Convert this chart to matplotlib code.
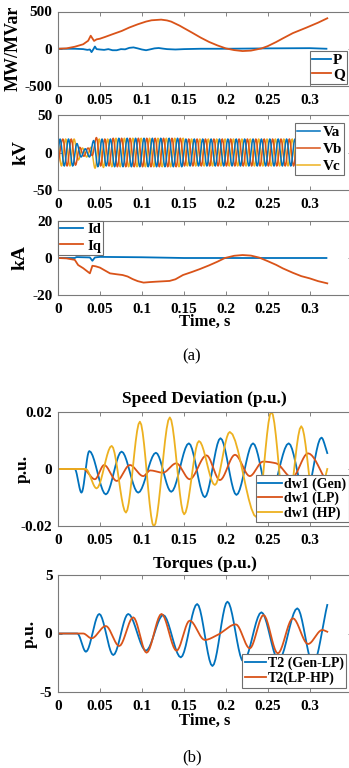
import numpy as np
import matplotlib
matplotlib.use('Agg')
import matplotlib.pyplot as plt

plt.rcParams['font.family'] = ['Liberation Serif', 'DejaVu Serif']
plt.rcParams['font.weight'] = 'bold'
plt.rcParams['axes.unicode_minus'] = False

# ---------------- data ----------------
x_ticks = [0, 0.05, 0.1, 0.15, 0.2, 0.25, 0.3]
x_tick_labels = ['0', '0.05', '0.1', '0.15', '0.2', '0.25', '0.3']

# Panel (a)-1 : P, Q
t_P = [0, 0.02, 0.03, 0.035, 0.038, 0.040, 0.042, 0.044, 0.046, 0.05, 0.055, 0.06, 0.065,
       0.07, 0.075, 0.08, 0.085, 0.09, 0.095, 0.1, 0.105, 0.11, 0.115, 0.12, 0.125, 0.13,
       0.14, 0.15, 0.17, 0.2, 0.25, 0.3, 0.32]
P = [0, 0, -5, -15, -10, -45, -10, 30, -5, -10, -15, -5, -20, -20, -5, -8, 12, 18, 5,
     -10, -20, -8, 5, 10, 2, -5, -10, -5, 0, 0, 5, 8, 0]
t_Q = [0, 0.01, 0.02, 0.03, 0.036, 0.039, 0.041, 0.043, 0.046, 0.05, 0.056, 0.065, 0.076,
       0.085, 0.095, 0.105, 0.1115, 0.123, 0.13, 0.135, 0.145, 0.15, 0.16, 0.17, 0.18, 0.19,
       0.2, 0.21, 0.22, 0.23, 0.2425, 0.25, 0.26, 0.268, 0.28, 0.296, 0.31, 0.321]
Q = [0, 5, 27, 60, 108, 175, 140, 105, 126, 135, 158, 195, 239, 285, 328, 365, 382, 391,
     380, 364, 310, 278, 215, 150, 92, 45, 5, -18, -31, -25, 4, 35, 90, 139, 210, 283, 350, 409]

# Panel (a)-2 : three-phase voltage, value at t=0 followed by successive peaks/troughs
Va = [0,
      18, -18, 18, -18, 12, -6, 5, -6, 16, -19,
      18, -18, 18, -19, 19, -19, 19, -19, 19, -19,
      19, -19, 19, -19, 19, -19, 19, -19, 19, -19,
      18, -18, 18, -18, 18, -18, 18, -18, 18, -18,
      18, -18, 18, -18, 18, -18, 18, -18, 18, -18,
      18, -18, 18, -18, 18, -18, 18, -18, 18, -18,
      18, -18, 18, -18]
Vb = [-15.6,
      18, -18, 18, -17, 7, -5, 6, -4, 20, -18,
      18, -18, 19, -19, 19, -19, 19, -19, 19, -19,
      19, -19, 19, -19, 19, -19, 19, -19, 19, -18,
      18, -18, 18, -18, 18, -18, 18, -18, 18, -18,
      18, -18, 18, -18, 18, -18, 18, -18, 18, -18,
      18, -18, 18, -18, 18, -18, 18, -18, 18, -18,
      18, -18, 18]
Vc = [15.6,
      -18, 18, -18, 18, -10, 6, -6, 7, -21, 18,
      -20, 18, -19, 19, -19, 19, -19, 19, -19, 19,
      -19, 19, -19, 19, -19, 19, -19, 19, -19, 19,
      -18, 18, -18, 18, -18, 18, -18, 18, -18, 18,
      -18, 18, -18, 18, -18, 18, -18, 18, -18, 18,
      -18, 18, -18, 18, -18, 18, -18, 18, -18, 18,
      -18, 18, -18, 18]
v_half_period = 0.005
va_first, vb_first, vc_first = 0.0025, 0.005833, 0.004167

# Panel (a)-3 : Id, Iq
t_Id = [0, 0.02, 0.022, 0.038, 0.041, 0.044, 0.05, 0.1, 0.15, 0.2, 0.32]
Id = [0, 0, 0.5, 0.3, -1.5, 0.3, 0.6, 0.4, 0, 0, 0]
t_Iq = [0, 0.01, 0.02, 0.024, 0.03, 0.038, 0.041, 0.045, 0.05, 0.055, 0.062, 0.07, 0.077,
        0.083, 0.089, 0.095, 0.102, 0.11, 0.117, 0.125, 0.133, 0.14, 0.149, 0.16, 0.169,
        0.18, 0.19, 0.199, 0.21, 0.22, 0.23, 0.24, 0.25, 0.26, 0.268, 0.28, 0.29, 0.30,
        0.31, 0.321]
Iq = [0, -0.2, -1, -3.8, -5.5, -8.3, -4.2, -4.5, -5.2, -6.5, -8.3, -8.8, -9.2, -10, -11.4,
      -12.5, -13.3, -13, -12.8, -12.6, -12.4, -11.5, -9.2, -7.5, -6, -4, -2, 0, 1.2, 1.6,
      1.3, 0.2, -1.7, -3.7, -5.6, -8, -9.8, -11, -12.5, -13.7]

# Panel (b)-1 : speed deviation (turning points)
t_gen = [0, 0.020, 0.028, 0.0373, 0.057, 0.0758, 0.0956, 0.1167, 0.135, 0.156, 0.175,
         0.1937, 0.2127, 0.2325, 0.252, 0.275, 0.295, 0.314, 0.321]
dw_gen = [0, 0, -0.0083, 0.0063, -0.0089, 0.0061, -0.0083, 0.0057, -0.008, 0.009, -0.0099,
          0.0108, -0.0091, 0.009, -0.0095, 0.009, -0.0098, 0.011, 0.0056]
t_lp = [0, 0.030, 0.044, 0.055, 0.070, 0.0857, 0.1016, 0.110, 0.125, 0.141, 0.157, 0.177,
        0.193, 0.211, 0.2286, 0.2444, 0.26, 0.279, 0.298, 0.321]
dw_lp = [0, 0, -0.0036, 0.0014, -0.0042, 0.0014, -0.0025, -0.0005, -0.0013, 0.002, -0.0036,
         0.0048, -0.0039, 0.005, -0.0025, 0.0026, 0.002, -0.003, 0.0055, -0.005]
t_hp = [0, 0.033, 0.046, 0.064, 0.081, 0.0976, 0.1143, 0.1333, 0.1504, 0.168, 0.187,
        0.2048, 0.237, 0.2544, 0.272, 0.29, 0.307, 0.321]
dw_hp = [0, 0, -0.0068, 0.0081, -0.0153, 0.0166, -0.0202, 0.0181, -0.0159, 0.0098, -0.0056,
         0.013, -0.017, 0.0201, -0.018, 0.015, -0.015, 0.0]

# Panel (b)-2 : torques (turning points)
t_tg = [0, 0.023, 0.0333, 0.0492, 0.0659, 0.0837, 0.1048, 0.1254, 0.1464, 0.1659, 0.1841,
        0.2020, 0.221, 0.2425, 0.263, 0.2853, 0.304, 0.321]
T_gen_lp = [0, 0, -1.56, 1.67, -1.84, 1.67, -1.47, 1.58, -2.04, 2.52, -2.78, 2.72, -2.4,
            1.81, -2.3, 2.15, -2.6, 2.44]
t_tl = [0, 0.030, 0.040, 0.057, 0.073, 0.0897, 0.1056, 0.1234, 0.1413, 0.157, 0.175, 0.19,
        0.212, 0.2286, 0.245, 0.262, 0.28, 0.298, 0.315, 0.321]
T_lp_hp = [0, 0, -0.41, 0.64, -1.07, 1.38, -1.64, 1.67, -1.47, 1.1, -0.55, -0.13, 0.78,
           -1.27, 1.58, -1.7, 1.3, -0.9, 0.3, 0.15]

# ---------------- drawing helpers ----------------
C1, C2, C3 = '#0072BD', '#D95319', '#EDB120'
FW, FH = 349.0, 768.0


def smooth(x, y, n=10):
    """Monotone cubic (Fritsch-Carlson) line rendering through the read points."""
    x = np.asarray(x, float)
    y = np.asarray(y, float)
    h = np.diff(x)
    d = np.diff(y) / h
    m = np.zeros_like(y)
    m[0], m[-1] = d[0], d[-1]
    for i in range(1, len(x) - 1):
        if d[i - 1] * d[i] <= 0:
            m[i] = 0.0
        else:
            w1 = 2 * h[i] + h[i - 1]
            w2 = h[i] + 2 * h[i - 1]
            m[i] = (w1 + w2) / (w1 / d[i - 1] + w2 / d[i])
    xs, ys = [], []
    for i in range(len(x) - 1):
        s = np.linspace(0, 1, n, endpoint=False)
        h00 = 2 * s**3 - 3 * s**2 + 1
        h10 = s**3 - 2 * s**2 + s
        h01 = -2 * s**3 + 3 * s**2
        h11 = s**3 - s**2
        xs.append(x[i] + s * h[i])
        ys.append(h00 * y[i] + h10 * h[i] * m[i] + h01 * y[i + 1] + h11 * h[i] * m[i + 1])
    xs.append([x[-1]])
    ys.append([y[-1]])
    return np.concatenate(xs), np.concatenate(ys)


def rect(top, bottom):
    return [58 / FW, 1 - bottom / FH, 293.6 / FW, (bottom - top) / FH]


def style(ax, yt):
    ax.set_xlim(0, 0.35)
    ax.set_xticks(x_ticks)
    ax.set_xticklabels(x_tick_labels)
    ax.set_yticks(yt)
    ax.set_yticklabels([('%g' % v) for v in yt])
    ax.tick_params(direction='in', top=True, right=True, length=3, width=0.6,
                   color='#707070', labelcolor='black', labelsize=11)
    ax.tick_params(axis='x', pad=5.5)
    ax.tick_params(axis='y', pad=4)
    for s in ax.spines.values():
        s.set_color('#7a7a7a')
        s.set_linewidth(0.8)
    for lab in ax.get_xticklabels() + ax.get_yticklabels():
        lab.set_fontweight('bold')


def legend(ax, x_px, y_px, fs=10, hl=1.75, htp=0.15, ls=0.1, bp=0.2, order=None):
    h, l = ax.get_legend_handles_labels()
    if order is not None:
        h = [h[i] for i in order]
        l = [l[i] for i in order]
    lg = ax.legend(h, l, loc='upper left', bbox_to_anchor=(x_px / FW, 1 - y_px / FH),
                   bbox_transform=fig.transFigure, borderaxespad=0,
                   handlelength=hl, handletextpad=htp, labelspacing=ls, borderpad=bp,
                   fancybox=False, framealpha=1, edgecolor='#6e6e6e',
                   prop={'weight': 'bold', 'size': fs})
    lg.get_frame().set_linewidth(0.8)
    return lg


def ylab(ax, text, xc_px, fs):
    ax.set_ylabel(text, fontsize=fs, fontweight='bold', va='center')
    ax.yaxis.set_label_coords((xc_px - 58) / 293.6, 0.5)


fig = plt.figure(figsize=(3.49, 7.68), dpi=100)

# ---- (a) 1
ax1 = fig.add_axes(rect(11.5, 86))
ax1.plot(t_P, P, color=C1, lw=1.3, label='P')
ax1.plot(t_Q, Q, color=C2, lw=1.3, label='Q')
ax1.set_ylim(-500, 500)
style(ax1, [-500, 0, 500])
ylab(ax1, 'MW/MVar', 13, 13)
legend(ax1, 310, 51, fs=11, hl=1.2, htp=0.15, ls=0.05, bp=0.15)

# ---- (a) 2
ax2 = fig.add_axes(rect(115, 190))
ta = va_first + v_half_period * np.arange(len(Va) - 1)
tb = vb_first + v_half_period * np.arange(len(Vb) - 1)
tc = vc_first + v_half_period * np.arange(len(Vc) - 1)
for tt, vv, c, lb in [(tc, Vc, C3, 'Vc'), (tb, Vb, C2, 'Vb'), (ta, Va, C1, 'Va')]:
    xs, ys = smooth(np.concatenate([[0], tt]), vv, n=8)
    ax2.plot(xs, ys, color=c, lw=1.1, label=lb)
ax2.set_ylim(-50, 50)
style(ax2, [-50, 0, 50])
ylab(ax2, 'kV', 21, 14)
legend(ax2, 295, 123, fs=11, hl=1.5, htp=0.14, ls=0.22, bp=0.15, order=[2, 1, 0])

# ---- (a) 3
ax3 = fig.add_axes(rect(221, 295))
ax3.plot(t_Id, Id, color=C1, lw=1.3, label='Id')
ax3.plot(t_Iq, Iq, color=C2, lw=1.3, label='Iq')
ax3.set_ylim(-20, 20)
style(ax3, [-20, 0, 20])
ylab(ax3, 'kA', 20, 14)
legend(ax3, 58, 221, fs=10.5, hl=1.55, htp=0.3, ls=0.2, bp=0.15)
ax3.set_xlabel('Time, s', fontsize=12, fontweight='bold', va='center')
ax3.xaxis.set_label_coords(0.5, (295 - 322) / 74)
fig.text(192 / FW, 1 - 356 / FH, '(a)', ha='center', va='center', fontsize=12,
         fontweight='normal')

# ---- (b) 1
ax4 = fig.add_axes(rect(412, 526))
for tt, vv, c, lb in [(t_gen, dw_gen, C1, 'dw1 (Gen)'), (t_lp, dw_lp, C2, 'dw1 (LP)'),
                      (t_hp, dw_hp, C3, 'dw1 (HP)')]:
    xs, ys = smooth(tt, vv)
    ax4.plot(xs, ys, color=c, lw=1.3, label=lb)
ax4.set_ylim(-0.02, 0.02)
style(ax4, [-0.02, 0, 0.02])
ylab(ax4, 'p.u.', 23, 12.5)
legend(ax4, 256, 475, fs=10, hl=1.75, htp=0.15, ls=0.08, bp=0.15)
ax4.text(0.5, (526 - 399) / 114, 'Speed Deviation (p.u.)', transform=ax4.transAxes,
         ha='center', va='center', fontsize=12.5, fontweight='bold')

# ---- (b) 2
ax5 = fig.add_axes(rect(575, 692))
for tt, vv, c, lb in [(t_tg, T_gen_lp, C1, 'T2 (Gen-LP)'), (t_tl, T_lp_hp, C2, 'T2(LP-HP)')]:
    xs, ys = smooth(tt, vv)
    ax5.plot(xs, ys, color=c, lw=1.3, label=lb)
ax5.set_ylim(-5, 5)
style(ax5, [-5, 0, 5])
ylab(ax5, 'p.u.', 30, 12.5)
legend(ax5, 242, 654, fs=10, hl=1.55, htp=0.1, ls=0.12, bp=0.2)
ax5.text(0.5, (692 - 564) / 117, 'Torques (p.u.)', transform=ax5.transAxes,
         ha='center', va='center', fontsize=12.5, fontweight='bold')
ax5.set_xlabel('Time, s', fontsize=12, fontweight='bold', va='center')
ax5.xaxis.set_label_coords(0.5, (692 - 721) / 117)
fig.text(192 / FW, 1 - 757 / FH, '(b)', ha='center', va='center', fontsize=12,
         fontweight='normal')

fig.savefig('out.png', dpi=100)
